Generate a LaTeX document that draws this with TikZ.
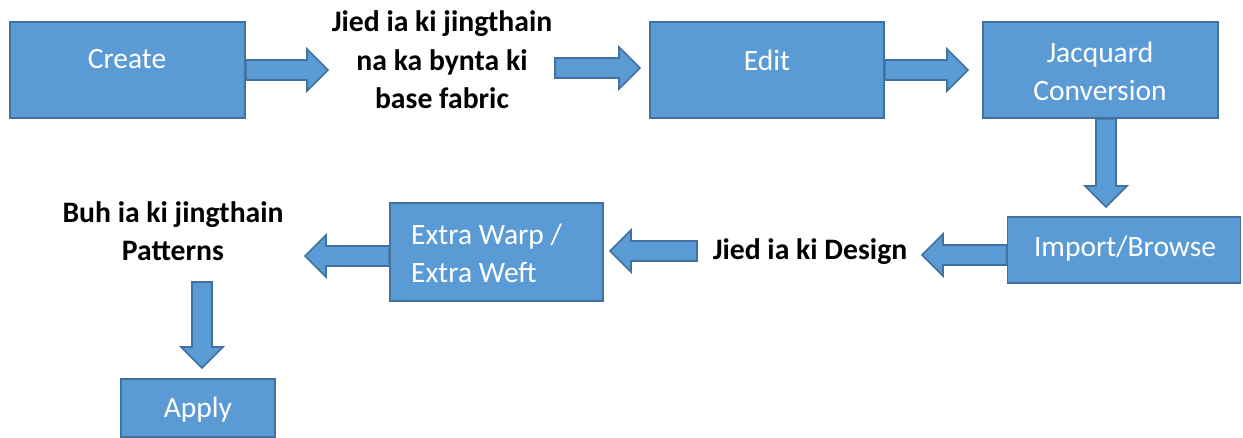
\documentclass[tikz,border=0pt]{standalone}
\usepackage{fontspec}
\setmainfont{Carlito}
\usetikzlibrary{calc}
\definecolor{boxfill}{HTML}{5B9BD5}
\definecolor{boxline}{HTML}{41719C}
\tikzset{
  box/.style={draw=boxline, fill=boxfill, line width=1.8pt, inner sep=0pt},
  boxtext/.style={text=white, font=\fontsize{29.5}{38}\selectfont, inner sep=0pt, align=center},
  lbl/.style={text=black, font=\fontsize{29.7}{38.5}\selectfont\bfseries, inner sep=0pt, align=center},
  barrow/.style={draw=boxline, fill=boxfill, line width=1.6pt, line join=miter,
    to path={let \p1=(\tikztostart), \p2=(\tikztotarget), \n1={atan2(\y2-\y1,\x2-\x1)} in
      ($(\p1)+(\n1+90:10pt)$) -- ($(\p2)+(\n1+180:21pt)+(\n1+90:10pt)$)
      -- ($(\p2)+(\n1+180:21pt)+(\n1+90:21pt)$) -- (\p2)
      -- ($(\p2)+(\n1+180:21pt)+(\n1-90:21pt)$) -- ($(\p2)+(\n1+180:21pt)+(\n1-90:10pt)$)
      -- ($(\p1)+(\n1-90:10pt)$) -- cycle}}
}
\begin{document}
\begin{tikzpicture}[x=1pt,y=-1pt]
\useasboundingbox (0,0) rectangle (1243,438);
% boxes
\node[box, minimum width=235pt, minimum height=96pt] (create) at (127.5,70) {};
\node[box, minimum width=234pt, minimum height=96pt] (edit) at (767,70) {};
\node[box, minimum width=235pt, minimum height=96pt] (jac) at (1100.5,70) {};
\node[box, minimum width=233pt, minimum height=66pt] (imp) at (1124,250) {};
\node[box, minimum width=213pt, minimum height=98pt] (extra) at (496.5,252) {};
\node[box, minimum width=154pt, minimum height=58pt] (apply) at (198,408) {};
% box texts
\node[boxtext] (createtxt) at (127,59) {Create};
\node[boxtext] (edittxt) at (767,60) {Edit};
\node[boxtext] (jactxt) at (1100,71) {Jacquard\\Conversion};
\node[boxtext] (imptxt) at (1125,249) {Import/Browse};
\node[boxtext, anchor=west, align=left] (extratxt) at (411,253) {Extra Warp /\\Extra Weft};
\node[boxtext] (applytxt) at (198,410) {Apply};
% bold labels
\node[lbl] (base) at (442,60) {Jied ia ki jingthain\\na ka bynta ki\\base fabric};
\node[lbl] (design) at (810,252) {Jied ia ki Design};
\node[lbl] (buh) at (173,231) {Buh ia ki jingthain\\Patterns};
% arrow end points
\coordinate (a1) at (328,70);
\coordinate (a2s) at (555,68);
\coordinate (a2) at (640,68);
\coordinate (a3) at (968,70);
\coordinate (a4) at (1106,207);
\coordinate (a5) at (922,255);
\coordinate (a6s) at (697,251);
\coordinate (a6) at (610,251);
\coordinate (a7) at (305,256);
\coordinate (a8s) at (202,282);
\coordinate (a8) at (202,368);
% arrows
\draw[barrow] (create.east) to (a1);
\draw[barrow] (a2s) to (a2);
\draw[barrow] (edit.east) to (a3);
\draw[barrow] ([xshift=5.5pt]jac.south) to (a4);
\draw[barrow] ([yshift=-5pt]imp.west) to (a5);
\draw[barrow] (a6s) to (a6);
\draw[barrow] ([yshift=-4pt]extra.west) to (a7);
\draw[barrow] (a8s) to (a8);
\end{tikzpicture}
\end{document}
